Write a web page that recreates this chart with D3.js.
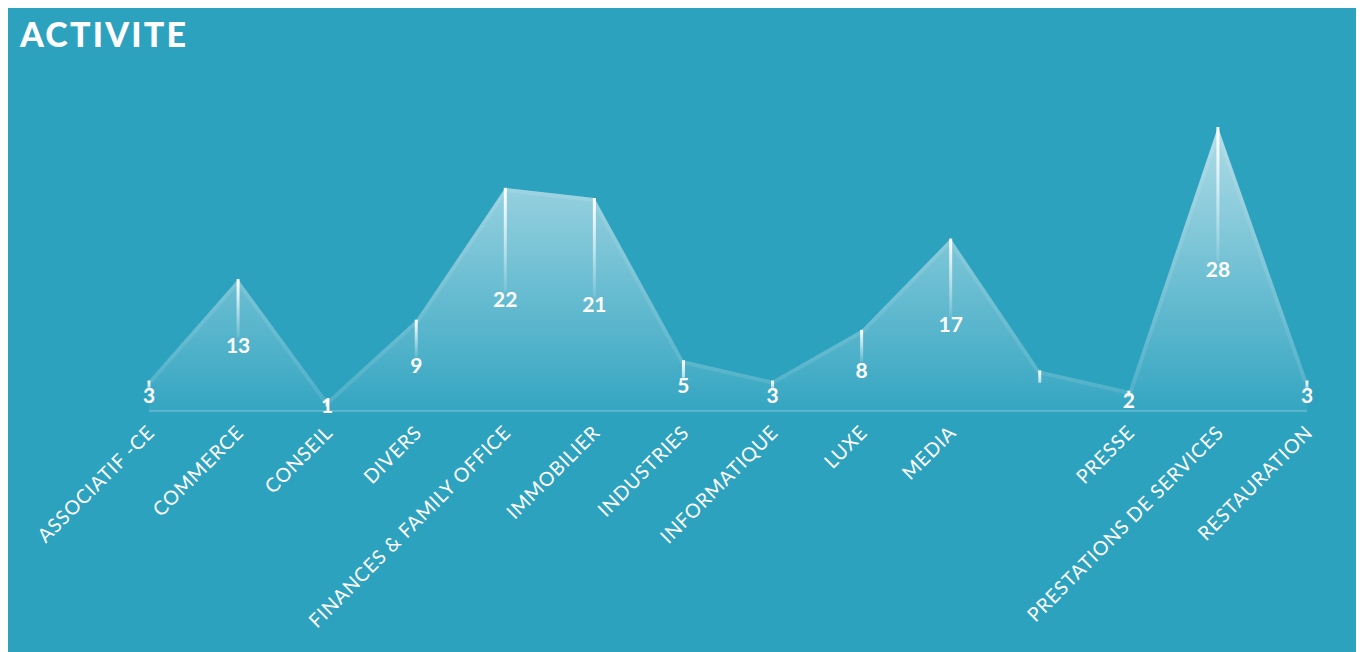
<!DOCTYPE html>
<html>
<head>
<meta charset="utf-8">
<script src="https://cdn.jsdelivr.net/npm/d3@7"></script>
<style>
  html, body { margin: 0; padding: 0; background: #ffffff; }
  #chart { width: 1360px; height: 652px; }
</style>
</head>
<body>
<div id="chart"></div>
<script>
// activité : nombre par secteur (une catégorie sans nom entre MEDIA et PRESSE)
const categories = [
  "ASSOCIATIF -CE", "COMMERCE", "CONSEIL", "DIVERS", "FINANCES & FAMILY OFFICE",
  "IMMOBILIER", "INDUSTRIES", "INFORMATIQUE", "LUXE", "MEDIA",
  "", "PRESSE", "PRESTATIONS DE SERVICES", "RESTAURATION"
];
const valeurs = [3, 13, 1, 9, 22, 21, 5, 3, 8, 17, 4, 2, 28, 3];
const titre = "ACTIVITE";

const width = 1360;
const height = 652;
const fond = "#2da2bf";
const police = "Lato, 'Open Sans', sans-serif";

const svg = d3.select("#chart")
  .append("svg")
  .attr("width", width)
  .attr("height", height);

svg.append("rect")
  .attr("x", 8)
  .attr("y", 8)
  .attr("width", 1348)
  .attr("height", height - 8)
  .attr("fill", fond);

const x = d3.scalePoint()
  .domain(d3.range(categories.length))
  .range([149, 1307]);

const y = d3.scaleLinear()
  .domain([0, 28])
  .range([411, 127]);

const data = categories.map((c, i) => ({ i, cat: c, v: valeurs[i] }));

const defs = svg.append("defs");

const gradAire = defs.append("linearGradient")
  .attr("id", "gradAire")
  .attr("gradientUnits", "userSpaceOnUse")
  .attr("x1", 0).attr("x2", 0)
  .attr("y1", y(28)).attr("y2", y(0));
gradAire.append("stop").attr("offset", "0%").attr("stop-color", "#fff").attr("stop-opacity", 0.62);
gradAire.append("stop").attr("offset", "100%").attr("stop-color", "#fff").attr("stop-opacity", 0.04);

// aire
const area = d3.area()
  .x(d => x(d.i))
  .y0(y(0))
  .y1(d => y(d.v));

defs.append("clipPath")
  .attr("id", "clipAire")
  .append("path")
  .datum(data)
  .attr("d", area);

svg.append("path")
  .datum(data)
  .attr("d", area)
  .attr("fill", "url(#gradAire)");

const line = d3.line()
  .x(d => x(d.i))
  .y(d => y(d.v));

// liseré clair sous le bord supérieur
svg.append("path")
  .datum(data)
  .attr("d", line)
  .attr("clip-path", "url(#clipAire)")
  .attr("fill", "none")
  .attr("stroke", "#fff")
  .attr("stroke-opacity", 0.1)
  .attr("stroke-width", 8);

// ligne de base
svg.append("line")
  .attr("x1", x(0))
  .attr("x2", x(categories.length - 1))
  .attr("y1", y(0))
  .attr("y2", y(0))
  .attr("stroke", "#fff")
  .attr("stroke-opacity", 0.2)
  .attr("stroke-width", 2);

// tiges
const tiges = svg.append("g");
data.forEach(d => {
  const y1 = y(d.v);
  const y2 = Math.max(y1 + 6, (y(d.v) + y(0)) / 2 - 8);
  const id = "tige" + d.i;
  const g = defs.append("linearGradient")
    .attr("id", id)
    .attr("gradientUnits", "userSpaceOnUse")
    .attr("x1", 0).attr("x2", 0)
    .attr("y1", y1).attr("y2", y2);
  g.append("stop").attr("offset", "0%").attr("stop-color", "#fff").attr("stop-opacity", 1);
  g.append("stop").attr("offset", "100%").attr("stop-color", "#fff").attr("stop-opacity", d.v > 6 ? 0.1 : 0.6);
  tiges.append("rect")
    .attr("x", x(d.i) - 1.5)
    .attr("y", y1)
    .attr("width", 3)
    .attr("height", y2 - y1)
    .attr("fill", `url(#${id})`);
});

// valeurs
svg.append("g")
  .selectAll("text")
  .data(data.filter(d => d.cat !== ""))
  .join("text")
  .attr("x", d => x(d.i))
  .attr("y", d => (y(d.v) + y(0)) / 2)
  .attr("dy", "0.36em")
  .attr("text-anchor", "middle")
  .attr("fill", "#fff")
  .attr("font-family", police)
  .attr("font-weight", "700")
  .attr("font-size", 21)
  .text(d => d.v);

// étiquettes de catégories
svg.append("g")
  .selectAll("text")
  .data(data)
  .join("text")
  .attr("transform", d => `translate(${x(d.i) + 2},${429}) rotate(-45)`)
  .attr("text-anchor", "end")
  .attr("dy", "0.35em")
  .attr("fill", "#fff")
  .attr("font-family", police)
  .attr("font-size", 19.5)
  .attr("letter-spacing", 0.8)
  .text(d => d.cat);

svg.append("text")
  .attr("x", 20)
  .attr("y", 47)
  .attr("fill", "#fff")
  .attr("font-family", police)
  .attr("font-weight", "900")
  .attr("font-size", 34)
  .attr("letter-spacing", 2.2)
  .text(titre);
</script>
</body>
</html>
